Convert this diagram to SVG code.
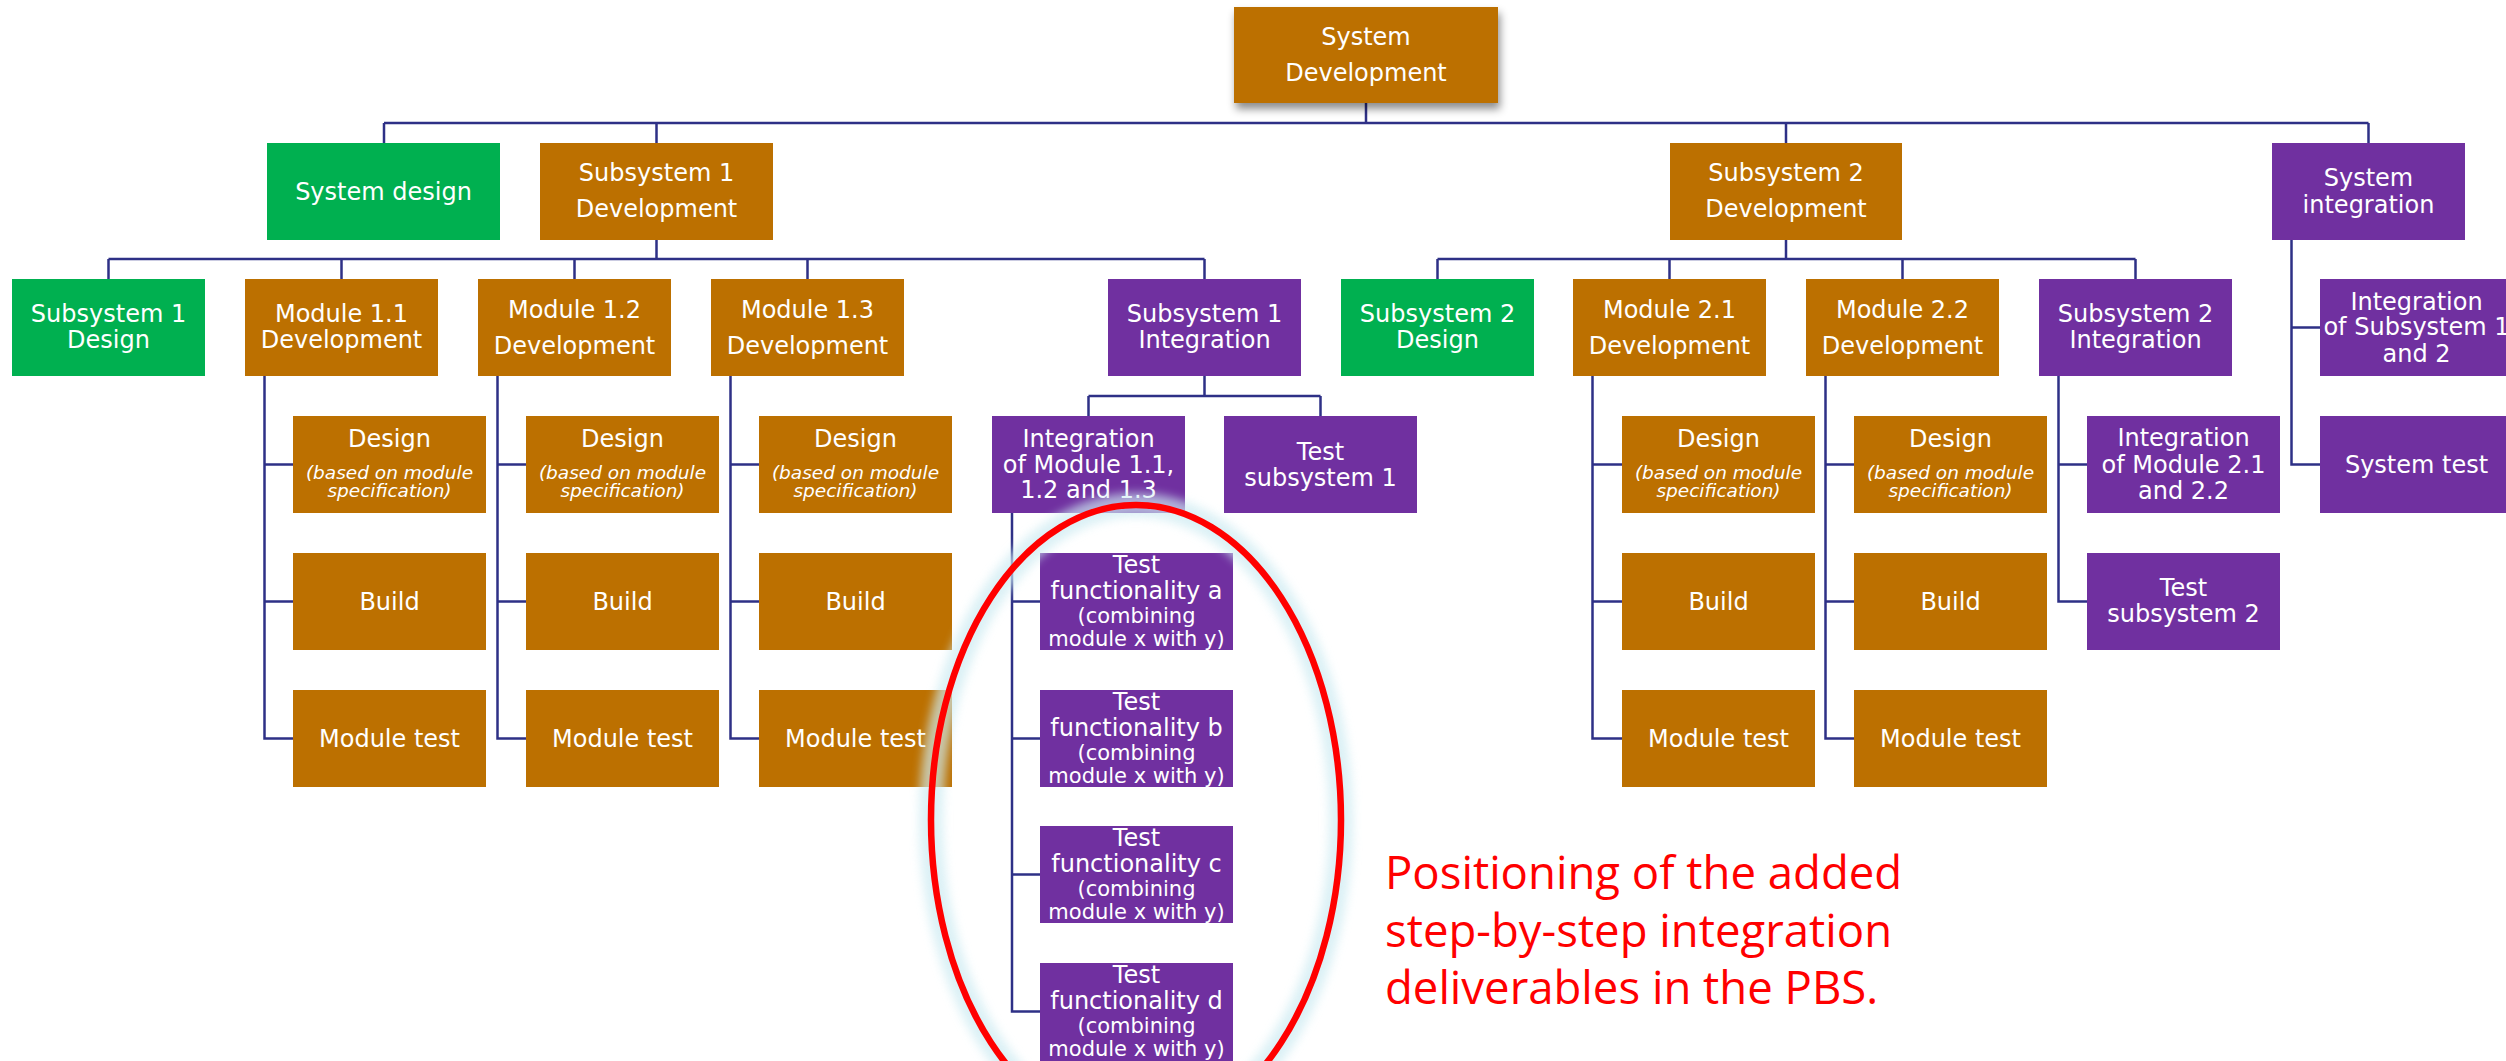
<svg xmlns="http://www.w3.org/2000/svg" width="2506" height="1061" viewBox="0 0 2506 1061">
<defs>
<style>
.o{fill:#BC7000}
.g{fill:#00B050}
.p{fill:#7030A0}
text{font-family:"DejaVu Sans","Liberation Sans",sans-serif;fill:#FFFFFF;text-anchor:middle}
.t{font-size:24px}
.i{font-size:18.5px;font-style:italic}
.s{font-size:21px}
.c{fill:none;stroke:#2E3086;stroke-width:2.5}
.red{font-family:"Open Sans","Noto Sans",sans-serif;font-size:45.5px;fill:#FF0000;text-anchor:start}
</style>
<filter id="sh" x="-20%" y="-20%" width="140%" height="160%">
<feDropShadow dx="2" dy="6" stdDeviation="4" flood-color="#000" flood-opacity="0.45"/>
</filter>
<filter id="glow" x="-20%" y="-20%" width="140%" height="140%">
<feGaussianBlur stdDeviation="5"/>
</filter>
</defs>
<rect width="2506" height="1061" fill="#FFFFFF"/>

<g id="connectors" class="c">
<path d="M1366 103V123M384 123H2368.5M384 123V143M656.5 123V143M1786 123V143M2368.5 123V143"/>
<path d="M656.5 240V259M108.5 259H1204.5M108.5 259V279M341.5 259V279M574.5 259V279M807.5 259V279M1204.5 259V279"/>
<path d="M1786 240V259M1437.5 259H2135.5M1437.5 259V279M1669.5 259V279M1902.5 259V279M2135.5 259V279"/>
<path d="M264.5 376V738.5H293M264.5 464.5H293M264.5 601.5H293"/>
<path d="M497.5 376V738.5H526M497.5 464.5H526M497.5 601.5H526"/>
<path d="M730.5 376V738.5H759M730.5 464.5H759M730.5 601.5H759"/>
<path d="M1592.5 376V738.5H1622M1592.5 464.5H1622M1592.5 601.5H1622"/>
<path d="M1825.5 376V738.5H1854M1825.5 464.5H1854M1825.5 601.5H1854"/>
<path d="M1204.5 376V396M1088.5 396H1320.5M1088.5 396V416M1320.5 396V416"/>
<path d="M1012 513V1011.5H1040M1012 601.5H1040M1012 738.5H1040M1012 874.5H1040"/>
<path d="M2058.5 376V601.5H2087M2058.5 464.5H2087"/>
<path d="M2291.5 240V464.5H2320M2291.5 327.5H2320"/>
</g>

<g id="root"><rect class="o" x="1234" y="7" width="264" height="96" filter="url(#sh)"/><text class="t" x="1366" y="45">System</text><text class="t" x="1366" y="81">Development</text></g>
<g id="system-design"><rect class="g" x="267" y="143" width="233" height="97"/><text class="t" x="383.5" y="200">System design</text></g>
<g id="subsystem1-dev"><rect class="o" x="540" y="143" width="233" height="97"/><text class="t" x="656.5" y="181">Subsystem 1</text><text class="t" x="656.5" y="217">Development</text></g>
<g id="subsystem2-dev"><rect class="o" x="1670" y="143" width="232" height="97"/><text class="t" x="1786" y="181">Subsystem 2</text><text class="t" x="1786" y="217">Development</text></g>
<g id="system-integration"><rect class="p" x="2272" y="143" width="193" height="97"/><text class="t" x="2368.5" y="186">System</text><text class="t" x="2368.5" y="213">integration</text></g>

<g id="subsystem1-design"><rect class="g" x="12" y="279" width="193" height="97"/><text class="t" x="108.5" y="322">Subsystem 1</text><text class="t" x="108.5" y="348">Design</text></g>
<g id="module11"><rect class="o" x="245" y="279" width="193" height="97"/><text class="t" x="341.5" y="322">Module 1.1</text><text class="t" x="341.5" y="348">Development</text></g>
<g id="module12"><rect class="o" x="478" y="279" width="193" height="97"/><text class="t" x="574.5" y="318">Module 1.2</text><text class="t" x="574.5" y="354">Development</text></g>
<g id="module13"><rect class="o" x="711" y="279" width="193" height="97"/><text class="t" x="807.5" y="318">Module 1.3</text><text class="t" x="807.5" y="354">Development</text></g>
<g id="subsystem1-int"><rect class="p" x="1108" y="279" width="193" height="97"/><text class="t" x="1204.5" y="322">Subsystem 1</text><text class="t" x="1204.5" y="348">Integration</text></g>
<g id="subsystem2-design"><rect class="g" x="1341" y="279" width="193" height="97"/><text class="t" x="1437.5" y="322">Subsystem 2</text><text class="t" x="1437.5" y="348">Design</text></g>
<g id="module21"><rect class="o" x="1573" y="279" width="193" height="97"/><text class="t" x="1669.5" y="318">Module 2.1</text><text class="t" x="1669.5" y="354">Development</text></g>
<g id="module22"><rect class="o" x="1806" y="279" width="193" height="97"/><text class="t" x="1902.5" y="318">Module 2.2</text><text class="t" x="1902.5" y="354">Development</text></g>
<g id="subsystem2-int"><rect class="p" x="2039" y="279" width="193" height="97"/><text class="t" x="2135.5" y="322">Subsystem 2</text><text class="t" x="2135.5" y="348">Integration</text></g>
<g id="int-subsystems"><rect class="p" x="2320" y="279" width="193" height="97"/><text class="t" x="2416.5" y="310">Integration</text><text class="t" x="2416.5" y="335">of Subsystem 1</text><text class="t" x="2416.5" y="362">and 2</text></g>

<g id="design11"><rect class="o" x="293" y="416" width="193" height="97"/><text class="t" x="389.5" y="447">Design</text><text class="i" x="389.5" y="479">(based on module</text><text class="i" x="389.5" y="497">specification)</text></g>
<g id="build11"><rect class="o" x="293" y="553" width="193" height="97"/><text class="t" x="389.5" y="610">Build</text></g>
<g id="test11"><rect class="o" x="293" y="690" width="193" height="97"/><text class="t" x="389.5" y="747">Module test</text></g>
<g id="design12"><rect class="o" x="526" y="416" width="193" height="97"/><text class="t" x="622.5" y="447">Design</text><text class="i" x="622.5" y="479">(based on module</text><text class="i" x="622.5" y="497">specification)</text></g>
<g id="build12"><rect class="o" x="526" y="553" width="193" height="97"/><text class="t" x="622.5" y="610">Build</text></g>
<g id="test12"><rect class="o" x="526" y="690" width="193" height="97"/><text class="t" x="622.5" y="747">Module test</text></g>
<g id="design13"><rect class="o" x="759" y="416" width="193" height="97"/><text class="t" x="855.5" y="447">Design</text><text class="i" x="855.5" y="479">(based on module</text><text class="i" x="855.5" y="497">specification)</text></g>
<g id="build13"><rect class="o" x="759" y="553" width="193" height="97"/><text class="t" x="855.5" y="610">Build</text></g>
<g id="test13"><rect class="o" x="759" y="690" width="193" height="97"/><text class="t" x="855.5" y="747">Module test</text></g>
<g id="design21"><rect class="o" x="1622" y="416" width="193" height="97"/><text class="t" x="1718.5" y="447">Design</text><text class="i" x="1718.5" y="479">(based on module</text><text class="i" x="1718.5" y="497">specification)</text></g>
<g id="build21"><rect class="o" x="1622" y="553" width="193" height="97"/><text class="t" x="1718.5" y="610">Build</text></g>
<g id="test21"><rect class="o" x="1622" y="690" width="193" height="97"/><text class="t" x="1718.5" y="747">Module test</text></g>
<g id="design22"><rect class="o" x="1854" y="416" width="193" height="97"/><text class="t" x="1950.5" y="447">Design</text><text class="i" x="1950.5" y="479">(based on module</text><text class="i" x="1950.5" y="497">specification)</text></g>
<g id="build22"><rect class="o" x="1854" y="553" width="193" height="97"/><text class="t" x="1950.5" y="610">Build</text></g>
<g id="test22"><rect class="o" x="1854" y="690" width="193" height="97"/><text class="t" x="1950.5" y="747">Module test</text></g>

<g id="int-modules1"><rect class="p" x="992" y="416" width="193" height="97"/><text class="t" x="1088.5" y="447">Integration</text><text class="t" x="1088.5" y="473">of Module 1.1,</text><text class="t" x="1088.5" y="498">1.2 and 1.3</text></g>
<g id="test-ss1"><rect class="p" x="1224" y="416" width="193" height="97"/><text class="t" x="1320.5" y="460">Test</text><text class="t" x="1320.5" y="486">subsystem 1</text></g>
<g id="tf-a"><rect class="p" x="1040" y="553" width="193" height="97"/><text class="t" x="1136.5" y="573">Test</text><text class="t" x="1136.5" y="599">functionality a</text><text class="s" x="1136.5" y="623">(combining</text><text class="s" x="1136.5" y="646">module x with y)</text></g>
<g id="tf-b"><rect class="p" x="1040" y="690" width="193" height="97"/><text class="t" x="1136.5" y="710">Test</text><text class="t" x="1136.5" y="736">functionality b</text><text class="s" x="1136.5" y="760">(combining</text><text class="s" x="1136.5" y="783">module x with y)</text></g>
<g id="tf-c"><rect class="p" x="1040" y="826" width="193" height="97"/><text class="t" x="1136.5" y="846">Test</text><text class="t" x="1136.5" y="872">functionality c</text><text class="s" x="1136.5" y="896">(combining</text><text class="s" x="1136.5" y="919">module x with y)</text></g>
<g id="tf-d"><rect class="p" x="1040" y="963" width="193" height="98"/><text class="t" x="1136.5" y="983">Test</text><text class="t" x="1136.5" y="1009">functionality d</text><text class="s" x="1136.5" y="1033">(combining</text><text class="s" x="1136.5" y="1056">module x with y)</text></g>
<g id="int-modules2"><rect class="p" x="2087" y="416" width="193" height="97"/><text class="t" x="2183.5" y="446">Integration</text><text class="t" x="2183.5" y="473">of Module 2.1</text><text class="t" x="2183.5" y="499">and 2.2</text></g>
<g id="test-ss2"><rect class="p" x="2087" y="553" width="193" height="97"/><text class="t" x="2183.5" y="596">Test</text><text class="t" x="2183.5" y="622">subsystem 2</text></g>
<g id="system-test"><rect class="p" x="2320" y="416" width="193" height="97"/><text class="t" x="2416.5" y="473">System test</text></g>

<g id="highlight">
<ellipse cx="1136" cy="820" rx="205" ry="315" fill="none" stroke="#CDEBF2" stroke-width="24" opacity="0.7" filter="url(#glow)"/>
<ellipse cx="1136" cy="820" rx="205" ry="315" fill="none" stroke="#FF0000" stroke-width="6.5"/>
</g>
<g id="note">
<text class="red" x="1385" y="889">Positioning of the added</text>
<text class="red" x="1385" y="947">step-by-step integration</text>
<text class="red" x="1385" y="1004">deliverables in the PBS.</text>
</g>
</svg>
